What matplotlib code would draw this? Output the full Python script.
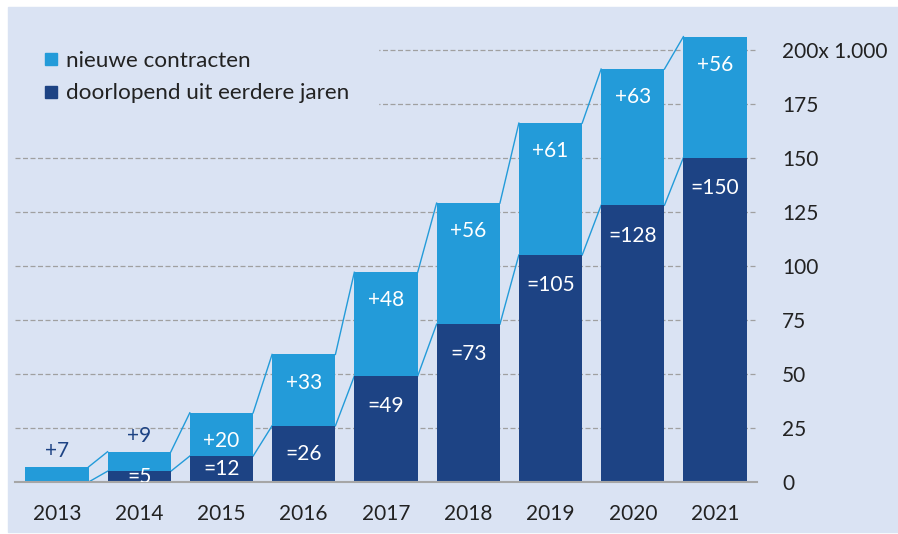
import matplotlib
matplotlib.use("Agg")
import matplotlib.pyplot as plt
from matplotlib.lines import Line2D
from matplotlib.patches import Rectangle

plt.rcParams['font.family'] = ['Lato', 'DejaVu Sans']

# data (x 1.000)
years = ['2013', '2014', '2015', '2016', '2017', '2018', '2019', '2020', '2021']
doorlopend = [0, 5, 12, 26, 49, 73, 105, 128, 150]
nieuw = [7, 9, 20, 33, 48, 56, 61, 63, 56]
yticks = [0, 25, 50, 75, 100, 125, 150, 175, 200]
ytick_labels = ['0', '25', '50', '75', '100', '125', '150', '175', '200x 1.000']

light = '#239bd9'
dark = '#1d4384'
bg = '#dae3f3'
txt = '#222222'
fs = 15
w = 0.77

totaal = [d + n for d, n in zip(doorlopend, nieuw)]
x = list(range(len(years)))

fig = plt.figure(figsize=(8.98, 5.34), dpi=100)
fig.patches.append(Rectangle((8/898, 0.004), 1, 1 - 7/534 - 0.004,
                             transform=fig.transFigure, color=bg, zorder=-1))
ax = fig.add_axes([15/898, 1 - 482/534, 742/898, 454/534])
ax.set_facecolor('none')

ax.bar(x, doorlopend, w, color=dark, zorder=2)
ax.bar(x, nieuw, w, bottom=doorlopend, color=light, zorder=2)

# connecting lines between the bars
for i in range(len(x) - 1):
    ax.plot([i + w/2, i + 1 - w/2], [totaal[i], totaal[i+1]], color=light, lw=1, zorder=1.8)
    ax.plot([i + w/2, i + 1 - w/2], [doorlopend[i], doorlopend[i+1]], color=light, lw=1, zorder=1.8)

# labels
for i in x:
    n, d, t = nieuw[i], doorlopend[i], totaal[i]
    if n < 15:
        ax.annotate(f'+{n}', (i, t), xytext=(0, 4), textcoords='offset points',
                    ha='center', va='bottom', color=dark, fontsize=fs)
    else:
        ax.text(i, t - 13, f'+{n}', ha='center', va='center', color='white', fontsize=fs)
    if d > 0:
        ax.text(i, max(d - 14, d / 2), f'={d}', ha='center', va='center',
                color='white', fontsize=fs, clip_on=True)

ax.set_xlim(-0.51, 8.51)
ax.set_ylim(0, 210)
ax.set_yticks(yticks, ytick_labels)
ax.set_xticks(x, years)
ax.yaxis.tick_right()
ax.yaxis.grid(True, ls=(0, (4, 2)), color='#a0a0a0', lw=0.9)
ax.set_axisbelow(True)
ax.tick_params(axis='y', length=0, pad=18, labelsize=fs, labelcolor=txt)
ax.tick_params(axis='x', length=0, pad=16, labelsize=fs, labelcolor=txt)
for s in ['top', 'left', 'right']:
    ax.spines[s].set_visible(False)
ax.spines['bottom'].set_color('#a6a6a6')
ax.spines['bottom'].set_linewidth(1.5)

# legend area hides the grid lines
ax.add_patch(Rectangle((-0.51, 168), 4.41, 60, color=bg, zorder=0.9))

handles = [Line2D([], [], marker='s', ls='none', color=light, markersize=9),
           Line2D([], [], marker='s', ls='none', color=dark, markersize=9)]
fig.legend(handles, ['nieuwe contracten', 'doorlopend uit eerdere jaren'],
           loc='upper left', bbox_to_anchor=(43/898, 1 - 51/534), frameon=False,
           fontsize=16.2, borderpad=0, borderaxespad=0, handlelength=0.75,
           handletextpad=0.25, labelspacing=0.55, labelcolor=txt)

fig.savefig('out.png', dpi=100)
